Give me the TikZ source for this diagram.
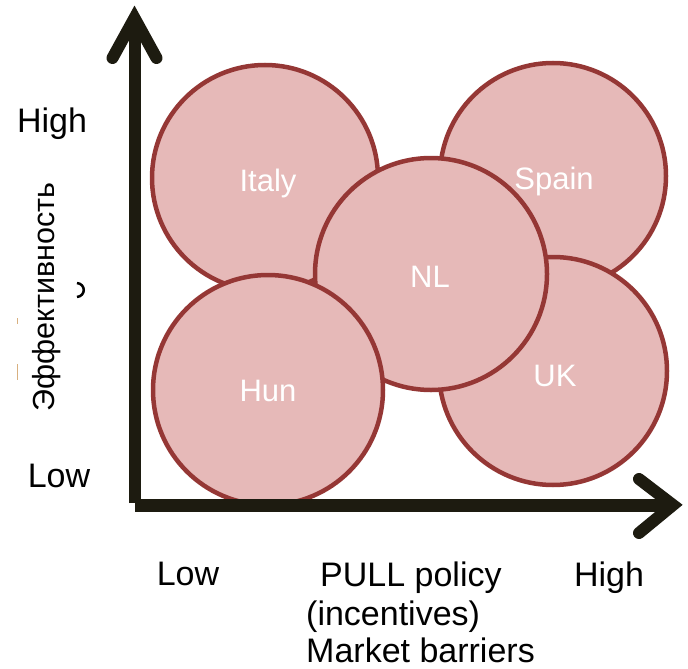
\documentclass[tikz,border=0pt]{standalone}
\usepackage{fontspec}
\setmainfont{Liberation Sans}
\usetikzlibrary{calc}
\definecolor{bubblefill}{RGB}{230,185,184}
\definecolor{bubbleline}{RGB}{149,55,53}
\definecolor{axiscol}{RGB}{29,27,16}
\definecolor{tanmark}{RGB}{216,176,128}
\tikzset{
  bubble/.style={circle,draw=bubbleline,fill=bubblefill,line width=4.5pt,inner sep=0pt},
  bubbletext/.style={text=white,font=\fontsize{31}{37}\selectfont,inner sep=0pt,anchor=base},
  axistext/.style={text=black,font=\fontsize{34}{41}\selectfont,inner sep=0pt},
  axisline/.style={draw=axiscol,line cap=butt},
  axishead/.style={draw=axiscol,line width=12pt,line cap=round,line join=miter}
}
\begin{document}
\begin{tikzpicture}[x=1pt,y=-1pt]
\useasboundingbox (0,0) rectangle (688,669);
% bubbles
\node[bubble,minimum size=226pt] (italy) at (265,178) {};
\node[bubble,minimum size=226pt] (spain) at (553,176) {};
\node[bubble,minimum size=228pt] (uk) at (553,371) {};
\node[bubble,minimum size=232pt] (nl) at (431,274) {};
\node[bubble,minimum size=230pt] (hun) at (268,390) {};
\node[bubbletext] (italyt) at (268,191) {Italy};
\node[bubbletext] (spaint) at (554,189) {Spain};
\node[bubbletext] (nlt) at (430,287) {NL};
\node[bubbletext] (ukt) at (555,386) {UK};
\node[bubbletext] (hunt) at (268,401) {Hun};
% axes
\coordinate (vbot) at (134.5,503);
\coordinate (vtop) at (134.5,18);
\coordinate (hleft) at (135,505);
\coordinate (hright) at (673,505);
\draw[axisline,line width=12pt] (vbot) -- (vtop);
\draw[axisline,line width=13pt] (hleft) -- (hright);
\draw[axishead] ($(vtop)+(-22,40)$) -- (vtop) -- ($(vtop)+(22,40)$);
\draw[axishead] ($(hright)+(-34,-26)$) -- (hright) -- ($(hright)+(-34,28)$);
% labels
\node[axistext,anchor=base] (yhigh) at (52,132) {High};
\node[axistext,anchor=base] (ylow) at (59,487) {Low};
\node[axistext,anchor=base] (xlow) at (188,585) {Low};
\node[axistext,anchor=base] (xhigh) at (609,586) {High};
\node[axistext,anchor=base west] (xl1) at (320,586) {PULL policy};
\node[axistext,anchor=base west] (xl2) at (306,625) {(incentives)};
\node[axistext,anchor=base west] (xl3) at (306,662) {Market barriers};
\node[text=black,font=\fontsize{30.5}{36}\selectfont,inner sep=0pt,rotate=90] (ytitle) at (47,297) {Эффективность};
% stray marks
\draw[line width=2.5pt,black] (77,283) .. controls (86,284) and (86,296) .. (77,297);
\draw[tanmark,line width=1pt] (17,318) -- (17,324);
\draw[tanmark,line width=1pt] (17,364) -- (17,380);
\end{tikzpicture}
\end{document}
